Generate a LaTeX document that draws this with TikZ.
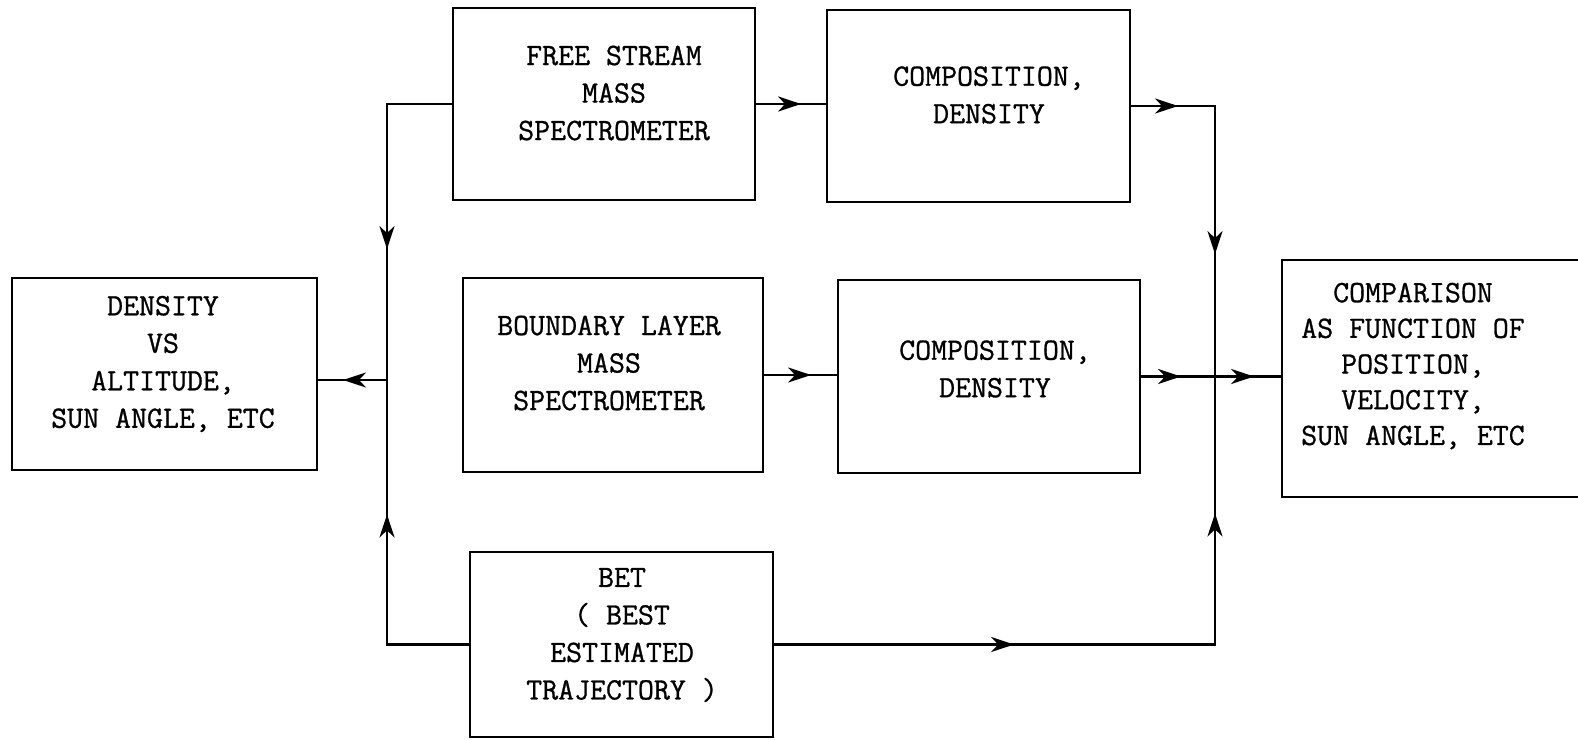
\documentclass[tikz,border=0pt]{standalone}
\usepackage{fontspec}
\setmonofont{Latin Modern Mono}[FakeBold=0.9]
\usetikzlibrary{arrows.meta,decorations.markings}
\tikzset{
  x=1pt, y=-1pt,
  box/.style={draw, line width=2.2pt, inner sep=0pt, minimum width=#1},
  txt/.style={align=center, inner sep=0pt, font=\ttfamily\fontsize{31}{37.5}\selectfont},
  conn/.style={line width=2.4pt},
  arrat/.style={postaction={decorate, decoration={markings,
      mark=at position #1 with {\arrow{Stealth[length=23pt,width=15pt,inset=7pt]}}}}},
}
\begin{document}
\begin{tikzpicture}
\useasboundingbox (0,0) rectangle (1578,739);
% boxes
\node[box=302pt, minimum height=192pt] (fs)  at (604,104)   {};
\node[box=303pt, minimum height=192pt] (ct)  at (978.5,106) {};
\node[box=305pt, minimum height=192pt] (dv)  at (164.5,374) {};
\node[box=300pt, minimum height=194pt] (bl)  at (613,375)   {};
\node[box=302pt, minimum height=193pt] (cm)  at (989,376.5) {};
\node[box=318pt, minimum height=237pt] (cmp) at (1441,378.5) {};
\node[box=303pt, minimum height=185pt] (bet) at (621.5,644.5) {};
% texts
\node[txt] (fs-t)  at (614,93)  {FREE STREAM\\MASS\\SPECTROMETER};
\node[txt] (ct-t)  at (989,95)  {COMPOSITION,\\DENSITY};
\node[txt] (dv-t)  at (163,364) {DENSITY\\VS\\ALTITUDE,\\SUN ANGLE, ETC};
\node[txt] (bl-t)  at (609,363) {BOUNDARY LAYER\\MASS\\SPECTROMETER};
\node[txt] (cm-t)  at (995,369) {COMPOSITION,\\DENSITY};
\node[txt, font=\ttfamily\fontsize{31}{35.7}\selectfont] (cmp-t) at (1413,366) {COMPARISON\\AS FUNCTION OF\\POSITION,\\VELOCITY,\\SUN ANGLE, ETC};
\node[txt] (bet-t) at (622,635) {BET\\( BEST\\ESTIMATED\\TRAJECTORY )};
% junctions
\coordinate (jl) at (387,380);
\coordinate (jr) at (1215,380);
% connectors
\draw[conn, arrat=210pt] (fs.west) -| (jl);
\draw[conn, arrat=212pt] (bet.west) -| (jl);
\draw[conn, arrat=44pt] (jl) -- (jl -| dv.east);
\draw[conn, arrat=45pt] (fs.east) -- (fs.east -| ct.west);
\draw[conn, arrat=47pt, arrat=232pt] (ct.east) -| (jr);
\draw[conn, arrat=240pt, arrat=572pt] (bet.east) -| (jr);
\draw[conn, arrat=47pt] (bl.east) -- (bl.east -| cm.west);
\draw[conn, arrat=40pt, arrat=113pt] (cm.east) -- (cm.east -| cmp.west);
\end{tikzpicture}
\end{document}
